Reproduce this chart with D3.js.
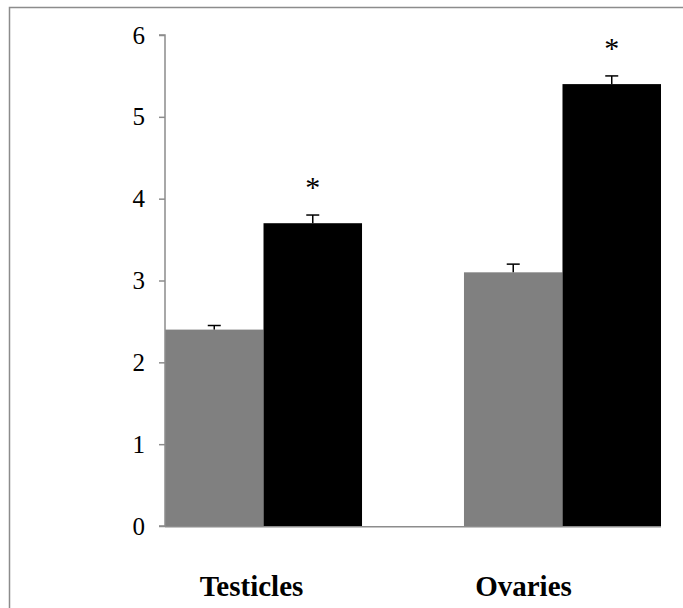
<!DOCTYPE html>
<html>
<head>
<meta charset="utf-8">
<script src="https://cdn.jsdelivr.net/npm/d3@7"></script>
<style>
  html, body { margin: 0; padding: 0; background: #fff; }
  svg { display: block; }
</style>
</head>
<body>
<svg id="chart" width="683" height="608"></svg>
<script>
// Organ categories and the two groups compared in each
const categories = ["Testicles", "Ovaries"];
const groups = ["control", "treated"];
const controlValues = [2.4, 3.1];
const treatedValues = [3.7, 5.4];
const controlErrors = [0.05, 0.1];
const treatedErrors = [0.1, 0.1];
const significant = [[false, true], [false, true]];
const yTicks = [0, 1, 2, 3, 4, 5, 6];

const groupColors = { control: "#808080", treated: "#000000" };
const serif = "'Liberation Serif', 'Times New Roman', serif";

const svg = d3.select("#chart");

// Outer frame
svg.append("rect")
  .attr("x", 9.5).attr("y", 7.5)
  .attr("width", 700).attr("height", 700)
  .attr("fill", "none")
  .attr("stroke", "#8c8c8c")
  .attr("stroke-width", 1.5);

const plotLeft = 165, plotRight = 661, plotTop = 35, plotBottom = 526;

const y = d3.scaleLinear().domain([0, 6]).range([plotBottom, plotTop]);
const x0 = d3.scaleBand().domain(categories).range([plotLeft, plotRight])
  .paddingInner(0.341).paddingOuter(0);
const x1 = d3.scaleBand().domain(groups).range([0, x0.bandwidth()]).padding(0);

const rows = categories.map((c, i) => ({
  category: c,
  bars: [
    { group: "control", value: controlValues[i], err: controlErrors[i], star: significant[i][0] },
    { group: "treated", value: treatedValues[i], err: treatedErrors[i], star: significant[i][1] }
  ]
}));

// Bars
const gCat = svg.selectAll("g.cat").data(rows).join("g")
  .attr("class", "cat")
  .attr("transform", d => `translate(${x0(d.category)},0)`);

gCat.selectAll("rect").data(d => d.bars).join("rect")
  .attr("x", d => x1(d.group))
  .attr("width", x1.bandwidth())
  .attr("y", d => y(d.value))
  .attr("height", d => y(0) - y(d.value))
  .attr("fill", d => groupColors[d.group]);

// Upper error bars
const capHalf = 6.5;
const eb = gCat.selectAll("g.err").data(d => d.bars).join("g").attr("class", "err");
eb.append("line")
  .attr("x1", d => x1(d.group) + x1.bandwidth() / 2)
  .attr("x2", d => x1(d.group) + x1.bandwidth() / 2)
  .attr("y1", d => y(d.value))
  .attr("y2", d => y(d.value + d.err))
  .attr("stroke", "#000").attr("stroke-width", 1.5);
eb.append("line")
  .attr("x1", d => x1(d.group) + x1.bandwidth() / 2 - capHalf)
  .attr("x2", d => x1(d.group) + x1.bandwidth() / 2 + capHalf)
  .attr("y1", d => y(d.value + d.err))
  .attr("y2", d => y(d.value + d.err))
  .attr("stroke", "#000").attr("stroke-width", 1.5);

// Significance markers
gCat.selectAll("text.star").data(d => d.bars.filter(b => b.star)).join("text")
  .attr("class", "star")
  .attr("x", d => x1(d.group) + x1.bandwidth() / 2)
  .attr("y", d => y(d.value + d.err) - 18)
  .attr("text-anchor", "middle")
  .attr("font-family", serif)
  .attr("font-size", 30)
  .attr("fill", "#000")
  .text("*");

// Y axis
const yAxis = d3.axisLeft(y).tickValues(yTicks).tickSize(6).tickPadding(14)
  .tickFormat(d3.format("d"));
const gy = svg.append("g").attr("transform", `translate(${plotLeft},0)`).call(yAxis);
gy.select(".domain").attr("stroke", "#8c8c8c").attr("stroke-width", 1.5)
  .attr("d", `M-6,${plotTop}H0V${plotBottom}H-6`);
gy.selectAll(".tick line").attr("stroke", "#8c8c8c").attr("stroke-width", 1.5);
gy.selectAll(".tick text")
  .attr("font-family", serif)
  .attr("font-size", 25)
  .attr("fill", "#000");

// X axis baseline
svg.append("line")
  .attr("x1", plotLeft).attr("x2", plotRight)
  .attr("y1", y(0) + 0.75).attr("y2", y(0) + 0.75)
  .attr("stroke", "#8c8c8c").attr("stroke-width", 1.5);

// Category labels
const labelX = [251.5, 523.5];
svg.selectAll("text.cat-label").data(categories).join("text")
  .attr("class", "cat-label")
  .attr("x", (d, i) => labelX[i])
  .attr("y", 596)
  .attr("text-anchor", "middle")
  .attr("font-family", serif)
  .attr("font-weight", "bold")
  .attr("font-size", 29)
  .attr("fill", "#000")
  .text(d => d);
</script>
</body>
</html>
